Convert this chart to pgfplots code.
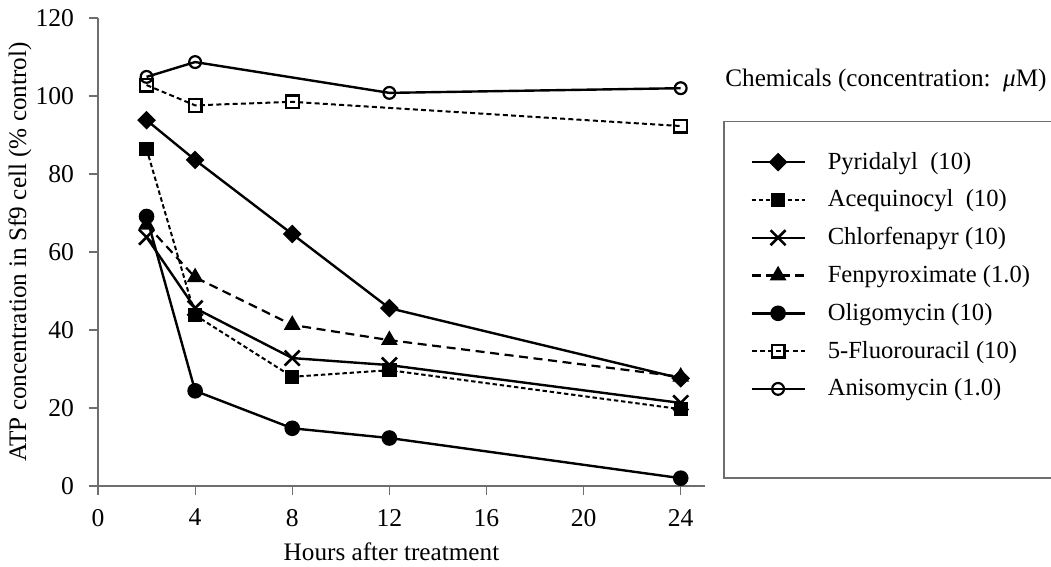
\documentclass[border=0pt]{standalone}
\usepackage{fontspec}
\setmainfont{Liberation Serif}
\usepackage{pgfplots}
\pgfplotsset{compat=1.18}
\definecolor{axgray}{RGB}{110,110,110}
\begin{document}
\begin{tikzpicture}[font=\fontsize{12.3}{14}\selectfont]
\begin{axis}[
  at={(0,0)}, anchor=south west,
  scale only axis, width=303.5pt, height=234pt,
  xmin=0, xmax=25, ymin=0, ymax=120,
  axis lines=left,
  axis line style={-, draw=axgray, line width=0.6pt},
  x axis line style={shorten <=-4.5pt},
  xtick={0,4,8,12,16,20,24}, ytick={0,20,40,60,80,100,120},
  tick align=outside, major tick length=4.5pt,
  tick style={draw=axgray, line width=0.6pt},
  /pgf/number format/assume math mode=true,
  xticklabel style={yshift=-3.5pt},
  yticklabel style={xshift=-4pt},
  tick label style={font=\fontsize{12.8}{14}\selectfont},
  label style={font=\fontsize{12.6}{14}\selectfont},
  xlabel={Hours after treatment},
  ylabel={ATP concentration in Sf9 cell (\% control)},
  xlabel style={at={(axis description cs:0.4835,-0.141)}, anchor=center},
  ylabel style={at={(axis description cs:-0.1285,0.5)}, anchor=center},
  clip=false,
  legend cell align=left,
  legend image code/.code={\draw[mark repeat=2,mark phase=2] plot coordinates {(0pt,0pt) (13.25pt,0pt) (26.5pt,0pt)};},
  legend style={at={(axis description cs:1.0741,0.7333)}, anchor=north west,
    draw=none, fill=none, inner sep=0pt, row sep=0pt,
    nodes={inner sep=0pt, minimum height=18.9pt},
    /tikz/every odd column/.append style={column sep=11pt}},
  every axis plot/.append style={line width=1.2pt, black},
]
% Pyridalyl
\addplot[solid, mark=square*, mark size=2.7pt, mark options={rotate=45, solid, fill=black}]
  coordinates {(2,93.8) (4,83.6) (8,64.6) (12,45.6) (24,27.6)};
\addlegendentry{Pyridalyl\ \ (10)}
% Acequinocyl
\addplot[line width=1pt, dash pattern=on 2.2pt off 1.4pt, mark=square*, mark size=3.1pt, mark options={solid, fill=black}]
  coordinates {(2,86.4) (4,43.8) (8,28.0) (12,29.7) (24,19.7)};
\addlegendentry{Acequinocyl\ \ (10)}
% Chlorfenapyr
\addplot[solid, mark=x, mark size=5.3pt, mark options={solid, line width=1.3pt}]
  coordinates {(2,63.8) (4,45.6) (8,32.8) (12,31.0) (24,21.3)};
\addlegendentry{Chlorfenapyr (10)}
% Fenpyroximate
\addplot[line width=1.1pt, dash pattern=on 4.5pt off 2.8pt, mark=triangle*, mark size=3.75pt, mark options={solid, fill=black}]
  coordinates {(2,67) (4,53.5) (8,41.3) (12,37.4) (24,28.0)};
\addlegendentry{Fenpyroximate (1.0)}
% Oligomycin
\addplot[solid, mark=*, mark size=3.3pt, mark options={solid, fill=black}]
  coordinates {(2,69.1) (4,24.4) (8,14.8) (12,12.3) (24,2.0)};
\addlegendentry{Oligomycin (10)}
% 5-Fluorouracil
\addplot[line width=1pt, dash pattern=on 2.5pt off 1.6pt, mark=square, mark size=3.2pt, mark options={solid, fill=white, line width=1.1pt}]
  coordinates {(2,102.8) (4,97.6) (8,98.5) (24,92.3)};
\addlegendentry{5-Fluorouracil (10)}
% Anisomycin
\addplot[solid, mark=o, mark size=2.95pt, mark options={solid, fill=white, line width=1.1pt}]
  coordinates {(2,104.9) (4,108.7) (12,100.8) (24,102.0)};
\addlegendentry{Anisomycin (1.0)}
\draw[axgray, line width=0.6pt] (axis description cs:1.9,0.7784) -- (axis description cs:1.0313,0.7784) -- (axis description cs:1.0313,0.0171) -- (axis description cs:1.9,0.0171);
\node[anchor=west, inner sep=0pt, font=\fontsize{12.6}{14}\selectfont] at (axis description cs:1.0329,0.8675) {Chemicals (concentration:\ \ \textit{μ}M)};
\end{axis}
\pgfresetboundingbox
\path[use as bounding box] (-49pt,-40.5pt) rectangle (476.5pt,243pt);
\end{tikzpicture}
\end{document}
